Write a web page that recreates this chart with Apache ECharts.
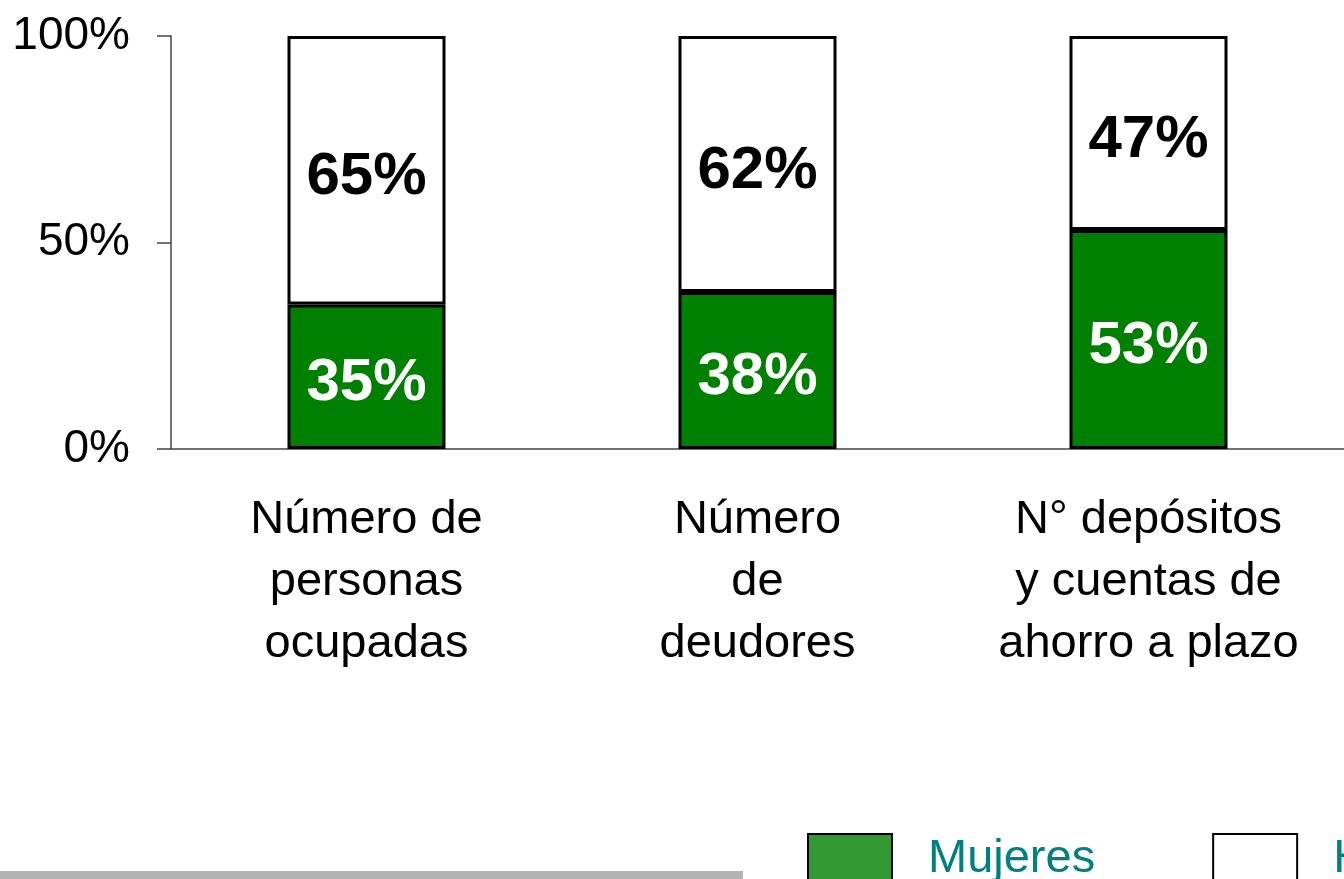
<!DOCTYPE html>
<html>
<head>
<meta charset="utf-8">
<script src="https://cdn.jsdelivr.net/npm/echarts@6/dist/echarts.min.js"></script>
<style>
  html, body { margin: 0; padding: 0; background: #fff; }
  #chart { width: 1344px; height: 879px; }
</style>
</head>
<body>
<div id="chart"></div>
<script>
// categorias y valores (%)
const categories = [
  "Número de\npersonas\nocupadas",
  "Número\nde\ndeudores",
  "N° depósitos\ny cuentas de\nahorro a plazo",
];
const mujeres = [35, 38, 53];
const hombres = [65, 62, 47];
const yTicks = [0, 50, 100];

const FONT = "'Liberation Sans', Arial, sans-serif";
const chart = echarts.init(document.getElementById("chart"));

const valueLabel = (color) => ({
  show: true,
  position: "inside",
  offset: [0, 7],
  formatter: "{c}%",
  fontFamily: FONT,
  fontSize: 60,
  fontWeight: "bold",
  color: color,
});

const option = {
  backgroundColor: "#fff",
  animation: false,
  textStyle: { fontFamily: FONT },
  grid: { left: 171, right: -7, top: 36, bottom: 430 },
  legend: {
    left: 802,
    top: 828,
    width: 1200,
    itemWidth: 84,
    itemHeight: 50,
    itemGap: 117,
    icon: "rect",
    itemStyle: { borderColor: "#000", borderWidth: 2 },
    textStyle: {
      fontFamily: FONT,
      fontSize: 47,
      color: "#008080",
      padding: [0, 0, 24, 31],
    },
    data: [
      { name: "Mujeres", itemStyle: { color: "#339933" } },
      { name: "Hombres", itemStyle: { color: "#fff" } },
    ],
  },
  xAxis: {
    type: "category",
    data: categories,
    axisLine: { lineStyle: { color: "#444", width: 1.5 } },
    axisTick: { length: 14, lineStyle: { color: "#444", width: 1.5 } },
    axisLabel: {
      fontFamily: FONT,
      fontSize: 47,
      lineHeight: 62,
      color: "#000",
      margin: 40,
      interval: 0,
    },
  },
  yAxis: {
    type: "value",
    min: yTicks[0],
    max: yTicks[yTicks.length - 1],
    interval: yTicks[1] - yTicks[0],
    splitLine: { show: false },
    axisLine: { show: true, lineStyle: { color: "#444", width: 1.5 } },
    axisTick: { show: true, length: 14, lineStyle: { color: "#444", width: 1.5 } },
    axisLabel: {
      fontFamily: FONT,
      fontSize: 46,
      color: "#000",
      margin: 41,
      formatter: "{value}%",
    },
  },
  series: [
    {
      name: "Mujeres",
      type: "bar",
      stack: "total",
      data: mujeres,
      barWidth: 158,
      itemStyle: { color: "#008000", borderColor: "#000", borderWidth: 3 },
      label: valueLabel("#fff"),
    },
    {
      name: "Hombres",
      type: "bar",
      stack: "total",
      data: hombres,
      barWidth: 158,
      itemStyle: { color: "#fff", borderColor: "#000", borderWidth: 3 },
      label: valueLabel("#000"),
    },
  ],
  graphic: [
    {
      type: "rect",
      left: 0,
      top: 871,
      shape: { width: 743, height: 8 },
      style: { fill: "#b3b3b3" },
    },
  ],
};

chart.setOption(option);
</script>
</body>
</html>
